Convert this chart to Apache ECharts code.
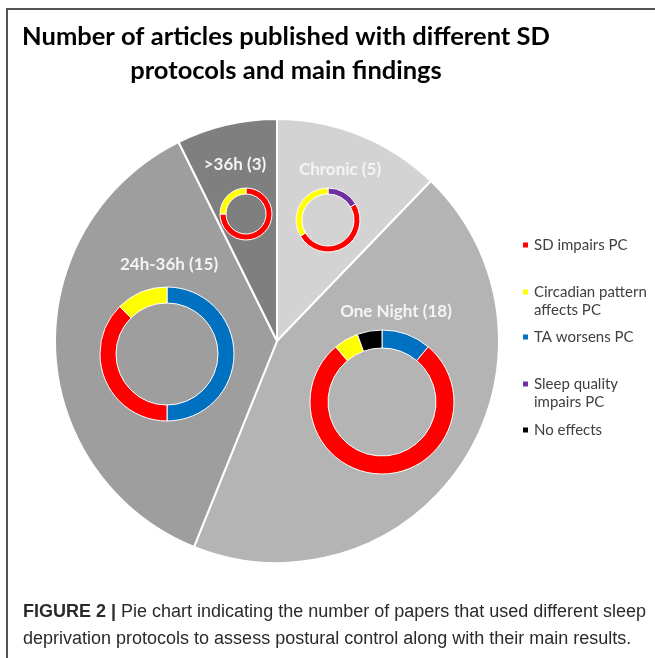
<!DOCTYPE html>
<html><head><meta charset="utf-8">
<script src="https://cdn.jsdelivr.net/npm/echarts@6/dist/echarts.min.js"></script>
<style>html,body{margin:0;padding:0;background:#fff;} #c{width:655px;height:658px;}</style>
</head><body><div id="c"></div>
<script>
// ---- data ----
const protocols = ['Chronic', 'One Night', '24h-36h', '>36h'];
const protocolCounts = [5, 18, 15, 3];
const findings = ['SD impairs PC', 'Circadian pattern affects PC', 'TA worsens PC', 'Sleep quality impairs PC', 'No effects'];
// findings per protocol, listed clockwise from 12 o'clock
const chronicNames = ['Sleep quality impairs PC', 'SD impairs PC', 'Circadian pattern affects PC'];
const chronicValues = [1, 3, 2];
const oneNightNames = ['TA worsens PC', 'SD impairs PC', 'Circadian pattern affects PC', 'No effects'];
const oneNightValues = [2, 14, 1, 1];
const h24to36Names = ['TA worsens PC', 'SD impairs PC', 'Circadian pattern affects PC'];
const h24to36Values = [8, 6, 2];
const over36Names = ['SD impairs PC', 'Circadian pattern affects PC'];
const over36Values = [3, 1];

// ---- styles / layout ----
const findingColors = ['#ff0000', '#ffff00', '#0070c0', '#7030a0', '#000000'];
const legendLabels = ['SD impairs PC', 'Circadian pattern\naffects PC', 'TA worsens PC', 'Sleep quality\nimpairs PC', 'No effects'];
const legendTops = [236, 283, 328, 375, 421];
const protocolColors = ['#d3d3d3', '#b4b4b4', '#9e9e9e', '#7f7f7f'];
const labelPos = [[340, 170], [396, 312], [169, 265], [235, 165]];
// square at the top of a taller box, so it lines up with the first line of a two-line label
const topSquareIcon = 'path://M0,0L7,0L7,7L0,7Z M0,25';

const chart = echarts.init(document.getElementById('c'), null, {renderer: 'canvas'});

function donut(names, values, center, radius) {
  return {
    type: 'pie', center: center, radius: radius, startAngle: 90, clockwise: true,
    silent: true, label: {show: false}, labelLine: {show: false},
    emphasis: {disabled: true},
    itemStyle: {borderColor: '#ffffff', borderWidth: 1},
    data: names.map((n, i) => ({name: n, value: values[i], itemStyle: {color: findingColors[findings.indexOf(n)]}}))
  };
}

const legends = findings.map((f, i) => {
  const twoLine = legendLabels[i].indexOf('\n') >= 0;
  return {
    data: [f], orient: 'vertical', left: 521, top: legendTops[i], padding: 0,
    icon: twoLine ? topSquareIcon : 'rect', itemWidth: 7, itemHeight: twoLine ? 25 : 7,
    itemGap: 5, selectedMode: false,
    formatter: (name) => legendLabels[findings.indexOf(name)],
    textStyle: {fontFamily: 'Lato', fontSize: 15, color: '#404040', lineHeight: 18}
  };
});

chart.setOption({
  animation: false,
  legend: legends,
  graphic: [
    {type: 'polyline', shape: {points: [[7, 658], [7, 9], [655, 9]]}, style: {stroke: '#555555', lineWidth: 2, fill: null}},
    {type: 'text', x: 286, y: 37, style: {text: 'Number of articles published with different SD', fontFamily: 'Lato', fontWeight: 'bold', fontSize: 25.5, fill: '#000', align: 'center', verticalAlign: 'middle'}},
    {type: 'text', x: 286, y: 71, style: {text: 'protocols and main findings', fontFamily: 'Lato', fontWeight: 'bold', fontSize: 25.5, fill: '#000', align: 'center', verticalAlign: 'middle'}},
    {type: 'text', x: 23, y: 612, style: {text: '{b|FIGURE 2 |} Pie chart indicating the number of papers that used different sleep', fontFamily: 'Liberation Sans', fontSize: 18, fill: '#2a2a2a', align: 'left', verticalAlign: 'middle', rich: {b: {fontFamily: 'Liberation Sans', fontWeight: 'bold', fontSize: 18, fill: '#2a2a2a'}}}},
    {type: 'text', x: 23, y: 639, style: {text: 'deprivation protocols to assess postural control along with their main results.', fontFamily: 'Liberation Sans', fontSize: 18, fill: '#2a2a2a', align: 'left', verticalAlign: 'middle'}}
  ],
  series: [
    {
      type: 'pie', center: [277, 341], radius: 222, startAngle: 90, clockwise: true,
      silent: true, emphasis: {disabled: true},
      itemStyle: {borderColor: '#ffffff', borderWidth: 2},
      label: {show: true, position: 'inside', formatter: '{b} ({c})', color: '#f4f4f4', fontFamily: 'Lato', fontWeight: 'bold', fontSize: 17},
      labelLine: {show: false},
      labelLayout: (p) => ({x: labelPos[p.dataIndex][0], y: labelPos[p.dataIndex][1], align: 'center', verticalAlign: 'middle'}),
      data: protocols.map((p, i) => ({name: p, value: protocolCounts[i], itemStyle: {color: protocolColors[i]}}))
    },
    donut(chronicNames, chronicValues, [328, 220], [26, 32]),
    donut(oneNightNames, oneNightValues, [382, 402], [54, 72]),
    donut(h24to36Names, h24to36Values, [167, 354], [51, 67]),
    donut(over36Names, over36Values, [246, 214], [20, 26])
  ]
});
</script>
</body></html>
